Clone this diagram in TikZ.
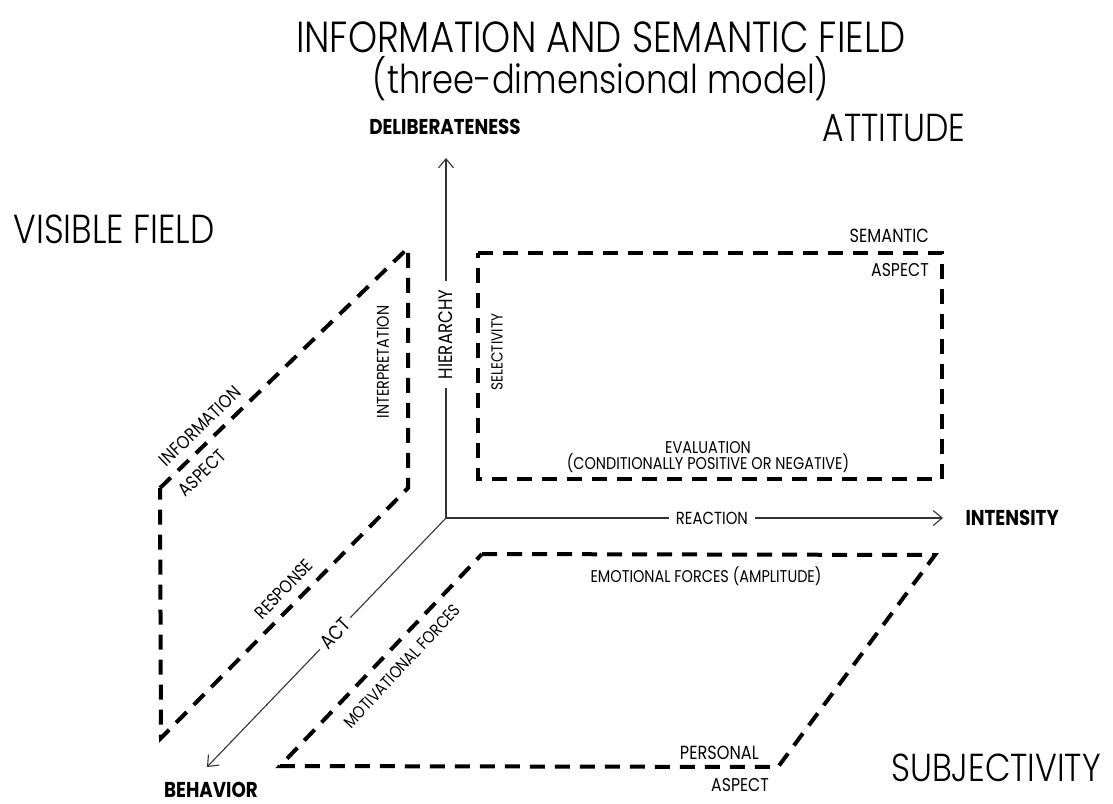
\documentclass[tikz,border=0pt]{standalone}
\usepackage{fontspec}
\setmainfont{Poppins}[FakeStretch=0.85]
\newfontfamily\lightfont{Poppins Light}[FakeStretch=0.85]
\usetikzlibrary{arrows.meta}
\newcommand{\fsz}[1]{\fontsize{#1}{#1}\selectfont}
\begin{document}
\begin{tikzpicture}[x=1pt,y=-1pt,
  axis/.style={draw=black!80, line width=1.1pt, -{Straight Barb[length=9pt,width=15pt]}},
  field/.style={line width=4pt, dash pattern=on 15pt off 10pt},
  small/.style={font=\fsz{17.5}, inner sep=1pt},
  big/.style={font=\lightfont\fsz{39}},
  axisname/.style={font=\fsz{21.5}\bfseries},
  gaplabel/.style={small, fill=white, inner sep=7pt}]
\path[use as bounding box] (0,0) rectangle (1113,803);

% headings
\node[big, font=\lightfont\fsz{43.5}] (title1) at (601,37) {INFORMATION AND SEMANTIC FIELD};
\node[big, font=\lightfont\fsz{39.7}] (title2) at (601,79) {(three-dimensional model)};
\node[big] (attitude) at (894,128) {ATTITUDE};
\node[big, font=\lightfont\fsz{40.5}] (visible) at (114,229) {VISIBLE FIELD};
\node[big] (subject) at (996,768) {SUBJECTIVITY};

% axes
\coordinate (O) at (446,518);
\coordinate (ytip) at (446,158);
\coordinate (xtip) at (943,518);
\coordinate (ztip) at (207,767);
\node[axisname] (delib) at (445,127) {DELIBERATENESS};
\node[axisname, anchor=west] (intens) at (962,518) {INTENSITY};
\node[axisname] (behav) at (211,790) {BEHAVIOR};
\draw[axis] (O) -- node[gaplabel, pos=0.535] (reaction) {REACTION} (xtip);
\draw[axis] (O) -- node[gaplabel, font=\fsz{19.5}, inner sep=9pt, pos=0.51, rotate=90] (hier) {HIERARCHY} (ytip);
\draw[axis] (O) -- node[gaplabel, font=\fsz{20}, inner sep=5pt, pos=0.464, rotate=46] (act) {ACT} (ztip);

% visible field (information aspect)
\coordinate (vA) at (160,488);
\coordinate (vB) at (408,248);
\coordinate (vC) at (408,488);
\coordinate (vD) at (161,738);
\draw[field] (vA) -- (vB) -- (vC) -- (vD) -- cycle;
\node[small, font=\fsz{18.5}, rotate=44] (info) at (200,426) {INFORMATION};
\node[small, font=\fsz{18.5}, rotate=44] (infoasp) at (202,473) {ASPECT};
\node[small, font=\fsz{17}, rotate=90] (interp) at (383,362) {INTERPRETATION};
\node[small, font=\fsz{18}, rotate=46] (resp) at (284,589) {RESPONSE};

% attitude (semantic aspect)
\coordinate (sA) at (478,253);
\coordinate (sB) at (942,253);
\coordinate (sC) at (942,479);
\coordinate (sD) at (478,479);
\draw[field] (sA) -- (sB) -- (sC) -- (sD) -- cycle;
\node[small, font=\fsz{19}, anchor=east] (sem) at (930,236) {SEMANTIC};
\node[small, font=\fsz{18.5}, anchor=east] (semasp) at (930,270) {ASPECT};
\node[small, font=\fsz{16}, rotate=90] (select) at (497,352) {SELECTIVITY};
\node[small, font=\fontsize{17}{16}\selectfont, align=center] (eval) at (708,457) {EVALUATION\\(CONDITIONALLY POSITIVE OR NEGATIVE)};

% subjectivity (personal aspect)
\coordinate (pA) at (482,554);
\coordinate (pB) at (935,555);
\coordinate (pC) at (778,767);
\coordinate (pD) at (280,766);
\draw[field] (pA) -- (pB) -- (pC) -- (pD) -- cycle;
\node[small, font=\fsz{17}] (emot) at (706,576) {EMOTIONAL FORCES (AMPLITUDE)};
\node[small, font=\fsz{17}, rotate=47] (motiv) at (402,666) {MOTIVATIONAL FORCES};
\node[small, font=\fsz{19}, anchor=east] (pers) at (760,753) {PERSONAL};
\node[small, font=\fsz{18.5}] (persasp) at (740,785) {ASPECT};
\end{tikzpicture}
\end{document}
